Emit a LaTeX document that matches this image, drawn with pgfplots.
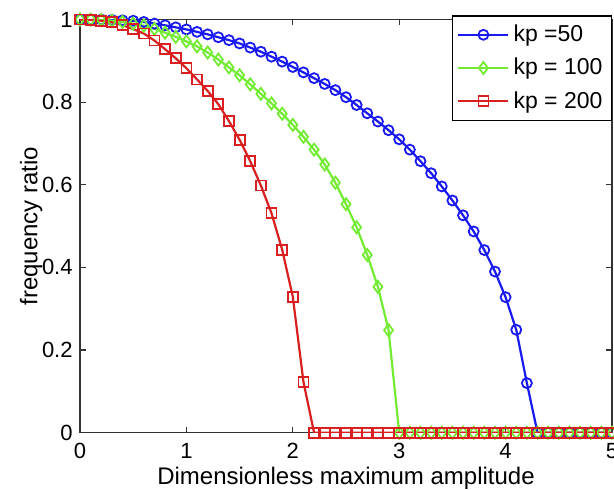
\documentclass[border=0pt]{standalone}
\usepackage{fontspec}
\setmainfont{Liberation Sans}
\usepackage{pgfplots}
\pgfplotsset{compat=1.18}
\usepackage{pgfplotstable}
\definecolor{mblue}{rgb}{0.1,0.1,0.95}
\definecolor{mgreen}{rgb}{0.45,0.92,0.2}
\definecolor{mred}{rgb}{0.85,0.12,0.12}

\pgfplotstableread{
x y
0.0 1.000
0.1 1.000
0.2 1.000
0.3 0.999
0.4 0.998
0.5 0.997
0.6 0.994
0.7 0.990
0.8 0.986
0.9 0.981
1.0 0.976
1.1 0.970
1.2 0.964
1.3 0.957
1.4 0.950
1.5 0.942
1.6 0.932
1.7 0.922
1.8 0.910
1.9 0.898
2.0 0.885
2.1 0.872
2.2 0.858
2.3 0.844
2.4 0.829
2.5 0.812
2.6 0.793
2.7 0.773
2.8 0.753
2.9 0.732
3.0 0.710
3.1 0.685
3.2 0.657
3.3 0.628
3.4 0.596
3.5 0.562
3.6 0.526
3.7 0.487
3.8 0.442
3.9 0.390
4.0 0.328
4.1 0.249
4.2 0.120
4.3 0
4.4 0
4.5 0
4.6 0
4.7 0
4.8 0
4.9 0
5.0 0
}\kpfifty

\pgfplotstableread{
x y
0.0 1.000
0.1 1.000
0.2 0.999
0.3 0.997
0.4 0.994
0.5 0.990
0.6 0.985
0.7 0.977
0.8 0.968
0.9 0.958
1.0 0.947
1.1 0.935
1.2 0.920
1.3 0.903
1.4 0.884
1.5 0.865
1.6 0.843
1.7 0.820
1.8 0.797
1.9 0.772
2.0 0.745
2.1 0.716
2.2 0.685
2.3 0.649
2.4 0.605
2.5 0.553
2.6 0.497
2.7 0.430
2.8 0.353
2.9 0.248
3.0 0
3.1 0
3.2 0
3.3 0
3.4 0
3.5 0
3.6 0
3.7 0
3.8 0
3.9 0
4.0 0
4.1 0
4.2 0
4.3 0
4.4 0
4.5 0
4.6 0
4.7 0
4.8 0
4.9 0
5.0 0
}\kphundred

\pgfplotstableread{
x y
0.0 1.000
0.1 0.999
0.2 0.997
0.3 0.993
0.4 0.986
0.5 0.977
0.6 0.966
0.7 0.949
0.8 0.928
0.9 0.906
1.0 0.882
1.1 0.855
1.2 0.827
1.3 0.795
1.4 0.754
1.5 0.709
1.6 0.657
1.7 0.598
1.8 0.531
1.9 0.443
2.0 0.329
2.1 0.123
2.2 0
2.3 0
2.4 0
2.5 0
2.6 0
2.7 0
2.8 0
2.9 0
3.0 0
3.1 0
3.2 0
3.3 0
3.4 0
3.5 0
3.6 0
3.7 0
3.8 0
3.9 0
4.0 0
4.1 0
4.2 0
4.3 0
4.4 0
4.5 0
4.6 0
4.7 0
4.8 0
4.9 0
5.0 0
}\kptwohundred

\begin{document}
\begin{tikzpicture}
\useasboundingbox (0,0) rectangle (307pt,245pt);
\begin{axis}[
  at={(40pt,28.65pt)}, anchor=south west,
  scale only axis, width=266pt, height=206.6pt,
  xmin=0, xmax=5, ymin=0, ymax=1,
  xtick={0,1,2,3,4,5},
  ytick={0,0.2,0.4,0.6,0.8,1},
  tick align=inside,
  major tick length=3pt,
  axis line style={black!80, line width=0.6pt},
  every tick/.style={black!80, line width=0.6pt},
  /pgf/number format/assume math mode=true,
  tick label style={font=\fontsize{11}{13}\selectfont},
  xticklabel style={anchor=north, inner sep=0pt, yshift=-5pt},
  yticklabel style={anchor=east, inner sep=0pt, xshift=-3.5pt},
  xlabel={Dimensionless maximum amplitude},
  ylabel={frequency ratio},
  label style={font=\fontsize{12}{14}\selectfont},
  xlabel style={at={(axis description cs:0.5,-0.11)}, anchor=center},
  ylabel style={at={(axis description cs:-0.092,0.5)}, anchor=center},
  legend style={at={(rel axis cs:1,1.01)}, anchor=north east,
    draw=black, line width=0.6pt, fill=white,
    font=\fontsize{11.5}{14}\selectfont,
    inner xsep=2.5pt, inner ysep=2.5pt, row sep=2.8pt},
  legend cell align=left,
  legend image code/.code={\draw[#1, mark repeat=2, mark phase=2] plot coordinates {(0pt,0pt) (12.5pt,0pt) (25pt,0pt)};},
  every axis plot/.append style={line width=1.1pt},
]
\addplot[mblue, mark=o, mark size=2.5pt, mark options={line width=0.9pt}] table[x=x,y=y] {\kpfifty};
\addlegendentry{kp =50}
\addplot[mgreen, mark=diamond, mark size=3pt, mark options={line width=0.9pt}] table[x=x,y=y] {\kphundred};
\addlegendentry{kp = 100}
\addplot[mred, mark=square, mark size=2.5pt, mark options={line width=0.9pt}] table[x=x,y=y] {\kptwohundred};
\addlegendentry{kp = 200}
\end{axis}
\end{tikzpicture}
\end{document}
